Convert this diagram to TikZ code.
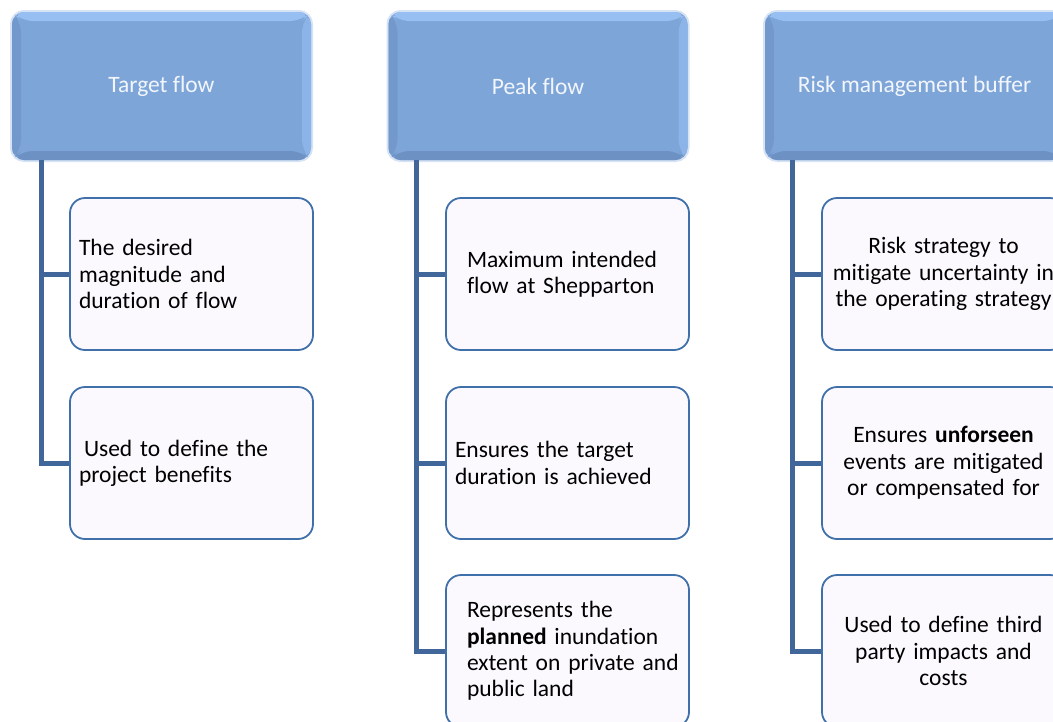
\documentclass[tikz,border=0pt]{standalone}
\usepackage{fontspec}
\setmainfont{Carlito}[Ligatures={NoCommon}]
\usetikzlibrary{calc}
\definecolor{hmain}{HTML}{7EA5D8}
\definecolor{htop}{HTML}{98BFF1}
\definecolor{hright}{HTML}{8CB4E9}
\definecolor{hleft}{HTML}{7399CC}
\definecolor{hbottom}{HTML}{6D91C3}
\definecolor{hglow}{HTML}{D6E3F4}
\definecolor{htext}{HTML}{F2F6FC}
\definecolor{cfill}{HTML}{FBF9FE}
\definecolor{cborder}{HTML}{4070AA}
\definecolor{trunk}{HTML}{41679A}
\tikzset{
  headerbox/.style={minimum width=299pt, minimum height=148pt, rounded corners=12pt,
    fill=hmain, text=htext, inner sep=0pt, font=\fontsize{23.5}{26}\selectfont,
    preaction={draw=hglow, line width=4pt},
    path picture={
      \fill[hleft] (path picture bounding box.south west) -- (path picture bounding box.north west)
        -- ($(path picture bounding box.north west)+(9pt,-9pt)$) -- ($(path picture bounding box.south west)+(9pt,9pt)$) -- cycle;
      \fill[htop] (path picture bounding box.north west) -- (path picture bounding box.north east)
        -- ($(path picture bounding box.north east)+(-9pt,-9pt)$) -- ($(path picture bounding box.north west)+(9pt,-9pt)$) -- cycle;
      \fill[hright] (path picture bounding box.north east) -- (path picture bounding box.south east)
        -- ($(path picture bounding box.south east)+(-9pt,9pt)$) -- ($(path picture bounding box.north east)+(-9pt,-9pt)$) -- cycle;
      \fill[hbottom] (path picture bounding box.south west) -- (path picture bounding box.south east)
        -- ($(path picture bounding box.south east)+(-9pt,9pt)$) -- ($(path picture bounding box.south west)+(9pt,9pt)$) -- cycle;
    }},
  childbox/.style={minimum width=243pt, minimum height=152pt, rounded corners=15pt,
    fill=cfill, draw=cborder, line width=1.8pt, inner sep=0pt,
    font=\fontsize{23.5}{26.3}\selectfont, text=black, text width=225pt},
  lefttext/.style={align=left, execute at begin node={\leftskip=#1}},
  centertext/.style={align=center},
  trunkline/.style={draw=trunk, line width=5pt},
}
\begin{document}
\begin{tikzpicture}[x=1pt,y=-1pt]
\clip (0,0) rectangle (1053,721);
\fill[white] (0,0) rectangle (1053,721);
% headers
\node[headerbox] (h1) at (161.5,86) {Target flow};
\node[headerbox] (h2) at (538,86) {Peak flow};
\node[headerbox] (h3) at (914.5,86) {Risk management buffer};
% trunk coordinates
\coordinate (t1) at ($(h1.south west)+(30pt,0pt)$);
\coordinate (t2) at ($(h2.south west)+(28pt,0pt)$);
\coordinate (t3) at ($(h3.south west)+(28pt,0pt)$);
% children
\node[childbox, lefttext=0pt] (c11) at (191.5,274) {The desired\\magnitude and\\duration of flow};
\node[childbox, lefttext=0pt] (c12) at (191.5,463) {\hspace*{5pt}Used to define the\\project benefits};
\node[childbox, lefttext=12pt] (c21) at (567.5,274) {Maximum intended\\flow at Shepparton};
\node[childbox, lefttext=0pt] (c22) at (567.5,463) {Ensures the target\\duration is achieved};
\node[childbox, lefttext=12pt] (c23) at (567.5,651) {Represents the\\\textbf{planned} inundation\\extent on private and\\public land};
\node[childbox, centertext] (c31) at (943.5,274) {Risk strategy to\\mitigate uncertainty in\\the operating strategy};
\node[childbox, centertext] (c32) at (943.5,463) {Ensures \textbf{unforseen}\\events are mitigated\\or compensated for};
\node[childbox, centertext] (c33) at (943.5,651) {Used to define third\\party impacts and\\costs};
% connectors
\draw[trunkline] (t1) |- (c12.west);
\draw[trunkline] (t1 |- c11.west) -- (c11.west);
\draw[trunkline] (t2) |- (c23.west);
\draw[trunkline] (t2 |- c21.west) -- (c21.west);
\draw[trunkline] (t2 |- c22.west) -- (c22.west);
\draw[trunkline] (t3) |- (c33.west);
\draw[trunkline] (t3 |- c31.west) -- (c31.west);
\draw[trunkline] (t3 |- c32.west) -- (c32.west);
\end{tikzpicture}
\end{document}
